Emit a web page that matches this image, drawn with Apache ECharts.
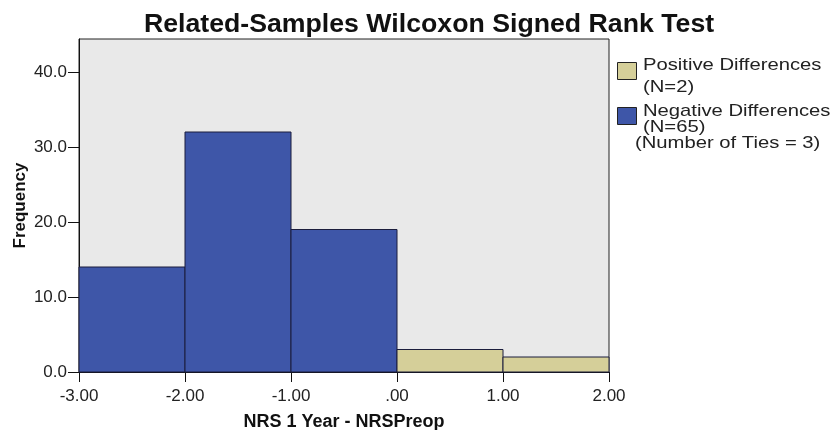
<!DOCTYPE html>
<html>
<head>
<meta charset="utf-8">
<script src="https://cdn.jsdelivr.net/npm/echarts@6/dist/echarts.min.js"></script>
<style>
  html, body { margin: 0; padding: 0; background: #ffffff; }
  #chart { width: 834px; height: 430px; }
</style>
</head>
<body>
<div id="chart"></div>
<script>
// Histogram bins of the paired difference (lower edge, upper edge)
const binStarts = [-3, -2, -1, 0, 1];
const binEnds = [-2, -1, 0, 1, 2];
const binCounts = [14, 32, 19, 3, 2];
// Which group each bin belongs to
const binGroups = ['neg', 'neg', 'neg', 'pos', 'pos'];
const yTicks = [0, 10, 20, 30, 40];

const FONT = '"Liberation Sans", Arial, sans-serif';
const BLUE = '#3e56a8';
const TAN = '#d5cf99';

function fmtX(v) {
  const s = Number(v).toFixed(2);
  if (s === '0.00' || s === '-0.00') return '.00';
  return s;
}

function binData(group) {
  const out = [];
  for (let i = 0; i < binStarts.length; i++) {
    if (binGroups[i] === group) out.push([binStarts[i], binEnds[i], binCounts[i]]);
  }
  return out;
}

function renderBin(fill) {
  return function (params, api) {
    const topLeft = api.coord([api.value(0), api.value(2)]);
    const bottomRight = api.coord([api.value(1), 0]);
    return {
      type: 'rect',
      shape: {
        x: topLeft[0],
        y: topLeft[1],
        width: bottomRight[0] - topLeft[0],
        height: bottomRight[1] - topLeft[1]
      },
      style: { fill: fill, stroke: '#1b1d3c', lineWidth: 1 }
    };
  };
}

const chart = echarts.init(document.getElementById('chart'), null, { renderer: 'canvas' });

function legendLine(text, x, y) {
  return {
    type: 'text', x: x, y: y, scaleX: 1.19,
    style: { text: text, font: '17px ' + FONT, lineHeight: 15, fill: '#222', verticalAlign: 'top' }
  };
}

chart.setOption({
  animation: false,
  backgroundColor: '#ffffff',
  title: {
    text: 'Related-Samples Wilcoxon Signed Rank Test',
    left: 424,
    textAlign: 'center',
    top: 6,
    textStyle: { fontFamily: FONT, fontSize: 26.7, fontWeight: 'bold', color: '#111' }
  },
  grid: {
    left: 79, right: 225, top: 39, bottom: 58,
    containLabel: false,
    outerBoundsMode: 'none',
    show: true,
    backgroundColor: '#e9e9e9',
    borderColor: '#222',
    borderWidth: 1
  },
  xAxis: {
    type: 'value',
    min: -3, max: 2, interval: 1,
    name: 'NRS 1 Year - NRSPreop',
    nameLocation: 'middle',
    nameGap: 41,
    nameMoveOverlap: false,
    nameTextStyle: { fontFamily: FONT, fontSize: 18, fontWeight: 'bold', color: '#111' },
    axisLine: { show: true, onZero: false, lineStyle: { color: '#111', width: 1 } },
    axisTick: { show: true, inside: false, length: 10, lineStyle: { color: '#111' } },
    axisLabel: { fontFamily: FONT, fontSize: 17, color: '#222', margin: 16, formatter: fmtX },
    splitLine: { show: false }
  },
  yAxis: {
    type: 'value',
    min: 0, max: 44.4,
    name: 'Frequency',
    nameLocation: 'middle',
    nameRotate: 90,
    nameGap: 50,
    nameMoveOverlap: false,
    nameTextStyle: { fontFamily: FONT, fontSize: 17, fontWeight: 'bold', color: '#111' },
    axisLine: { show: true, onZero: false, lineStyle: { color: '#111', width: 1 } },
    axisTick: { show: true, inside: false, length: 11, lineStyle: { color: '#111' }, customValues: yTicks },
    axisLabel: {
      fontFamily: FONT, fontSize: 17, color: '#222', margin: 12,
      formatter: v => Number(v).toFixed(1), customValues: yTicks
    },
    splitLine: { show: false }
  },
  series: [
    {
      type: 'custom',
      name: 'Negative Differences',
      renderItem: renderBin(BLUE),
      encode: { x: [0, 1], y: 2 },
      data: binData('neg')
    },
    {
      type: 'custom',
      name: 'Positive Differences',
      renderItem: renderBin(TAN),
      encode: { x: [0, 1], y: 2 },
      data: binData('pos')
    }
  ],
  graphic: [
    { type: 'rect', x: 617.5, y: 62.5, shape: { width: 19, height: 17 },
      style: { fill: TAN, stroke: '#222', lineWidth: 1 } },
    legendLine('Positive Differences', 643, 58),
    legendLine('(N=2)', 643, 80),
    { type: 'rect', x: 617.5, y: 107.5, shape: { width: 19, height: 17 },
      style: { fill: BLUE, stroke: '#222', lineWidth: 1 } },
    legendLine('Negative Differences', 643, 104),
    legendLine('(N=65)', 643, 120),
    legendLine('(Number of Ties = 3)', 635, 135.5)
  ]
});
</script>
</body>
</html>
